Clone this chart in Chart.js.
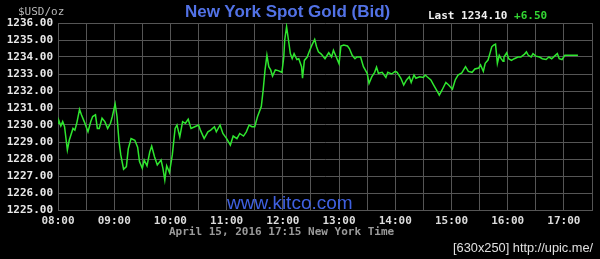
<!doctype html>
<html lang="en">
  <head>
    <meta charset="utf-8">
    <title>New York Spot Gold (Bid)</title>
    <style>
      html, body { margin: 0; padding: 0; background: #000; }
      #wrap { position: relative; width: 600px; height: 259px; overflow: hidden; }
      .txt { position: absolute; white-space: nowrap; font-family: "DejaVu Sans Mono", monospace;
             font-weight: bold; font-size: 11px; line-height: 13px; }
    </style>
  </head>
  <body>
    <div id="wrap">
      <canvas id="gold-chart" width="600" height="259"></canvas>

      <!-- header / footer labels -->
      <div class="txt" style="left:18px; top:5px; color:#b8b8b8; font-weight:normal;">$USD/oz</div>
      <div class="txt" style="left:185px; top:2px; font-family:'Liberation Sans', Arial, sans-serif; font-size:17px; line-height:20px; color:#5272e6;">New York Spot Gold (Bid)</div>
      <div class="txt" style="left:428px; top:9px; color:#f0f0f0;">Last 1234.10 <span style="color:#33d633;">+6.50</span></div>
      <div class="txt" style="left:227px; top:192px; font-family:'Liberation Sans', Arial, sans-serif; font-weight:normal; font-size:19px; line-height:22px; color:#3f60e0;">www.kitco.com</div>
      <div class="txt" style="left:169px; top:225px; color:#9a9a9a;">April 15, 2016 17:15 New York Time</div>
      <div class="txt" style="left:453px; top:240px; font-family:'Liberation Sans', Arial, sans-serif; font-weight:normal; font-size:12.8px; line-height:15px; color:#e0e0e0;">[630x250] http://upic.me/</div>
    </div>

    <script src="https://cdn.jsdelivr.net/npm/chart.js"></script>
    <script>
        // bid quotes (New York time)
        var times = [
            "08:00","08:01","08:03","08:05","08:07","08:10","08:12","08:16","08:18","08:20",
            "08:23","08:25","08:28","08:32","08:35","08:37","08:40","08:42","08:44","08:47",
            "08:50","08:53","08:56","08:58","09:01","09:03","09:05","09:07","09:10","09:13",
            "09:15","09:18","09:22","09:25","09:27","09:30","09:32","09:35","09:38","09:40",
            "09:43","09:46","09:50","09:52","09:54","09:56","09:59","10:02","10:05","10:07",
            "10:10","10:13","10:16","10:19","10:22","10:26","10:30","10:32","10:36","10:40",
            "10:43","10:47","10:49","10:53","10:56","11:00","11:04","11:07","11:11","11:14",
            "11:18","11:21","11:24","11:27","11:30","11:33","11:37","11:39","11:41","11:43",
            "11:45","11:47","11:49","11:52","11:55","11:59","12:01","12:02","12:04","12:06",
            "12:08","12:10","12:12","12:15","12:17","12:20","12:21","12:23","12:26","12:28",
            "12:31","12:34","12:36","12:38","12:41","12:45","12:49","12:52","12:54","12:57",
            "13:00","13:02","13:05","13:09","13:11","13:14","13:17","13:19","13:23","13:26",
            "13:30","13:32","13:35","13:38","13:40","13:42","13:46","13:50","13:52","13:56",
            "14:00","14:02","14:06","14:09","14:12","14:15","14:17","14:20","14:22","14:26",
            "14:30","14:32","14:34","14:38","14:41","14:45","14:47","14:50","14:54","14:57",
            "15:01","15:04","15:07","15:11","15:15","15:18","15:22","15:25","15:29","15:31",
            "15:34","15:36","15:39","15:41","15:43","15:45","15:47","15:48","15:49","15:51",
            "15:53","15:55","15:56","15:59","16:01","16:04","16:07","16:11","16:14","16:18",
            "16:20","16:22","16:25","16:27","16:30","16:34","16:37","16:41","16:44","16:47",
            "16:50","16:53","16:55","16:58","17:01","17:03","17:15"
        ]
        var bids = [
            1230.10,1230.25,1229.94,1230.20,1229.90,1228.53,1229.10,1229.80,1229.70,1230.10,
            1230.92,1230.60,1230.20,1229.60,1230.20,1230.50,1230.60,1229.80,1229.80,1230.40,
            1230.20,1229.80,1230.10,1230.50,1231.24,1230.50,1229.10,1228.24,1227.40,1227.55,
            1228.60,1229.20,1229.10,1228.70,1227.85,1227.45,1227.94,1227.60,1228.43,1228.76,
            1228.13,1227.65,1227.94,1227.45,1226.76,1227.60,1227.20,1228.24,1229.80,1230.00,
            1229.30,1230.20,1230.10,1230.34,1229.80,1229.90,1230.00,1229.70,1229.20,1229.60,
            1229.70,1229.90,1229.60,1230.00,1229.50,1229.20,1228.82,1229.35,1229.20,1229.50,
            1229.35,1229.60,1230.00,1229.90,1229.90,1230.50,1231.08,1232.06,1233.24,1234.10,
            1233.43,1233.24,1232.88,1233.24,1233.20,1233.10,1234.00,1235.00,1235.78,1235.00,
            1234.20,1233.90,1234.20,1233.85,1233.90,1233.43,1232.75,1233.80,1234.00,1234.30,
            1234.70,1235.04,1234.60,1234.30,1234.17,1233.90,1234.25,1234.00,1234.40,1234.00,
            1233.60,1234.65,1234.70,1234.65,1234.50,1234.10,1233.90,1234.00,1234.00,1233.43,
            1233.04,1232.45,1232.84,1233.10,1233.40,1233.04,1233.10,1232.80,1233.10,1233.00,
            1233.15,1233.10,1232.75,1232.35,1232.65,1232.84,1232.50,1232.94,1232.75,1232.84,
            1232.80,1232.94,1232.84,1232.65,1232.35,1231.96,1231.76,1232.06,1232.50,1232.35,
            1232.10,1232.65,1232.94,1233.06,1233.43,1233.15,1233.10,1233.30,1233.35,1233.53,
            1233.15,1233.63,1233.82,1234.20,1234.60,1234.70,1234.76,1234.20,1233.63,1234.10,
            1233.90,1233.75,1234.00,1234.25,1233.90,1233.80,1233.90,1234.00,1234.00,1234.17,
            1234.30,1234.10,1234.00,1234.20,1234.05,1234.00,1233.90,1233.85,1234.00,1233.90,
            1234.05,1234.20,1233.90,1233.85,1234.10,1234.10,1234.10
        ]

        // axis range
        var startTime = "08:00"
        var endTime = "17:30"
        var yMin = 1225
        var yMax = 1236

        // helper functions
        function toMinutes(hhmm) {
            var p = hhmm.split(":")
            return parseInt(p[0]) * 60 + parseInt(p[1])
        }

        function fmtTime(m) {
            var h = Math.floor(m / 60)
            var mm = m % 60
            return (h < 10 ? "0" : "") + h + ":" + (mm < 10 ? "0" : "") + mm
        }

        var t0 = toMinutes(startTime)
        var points = times.map(function (t, i) {
            return { x: toMinutes(t) - t0, y: bids[i] }
        })

        var gridColor = "#555555"
        var tickFont = { family: "'DejaVu Sans Mono', monospace", size: 11, weight: "bold" }

        new Chart(document.getElementById("gold-chart"), {
            type: "line",
            data: {
                datasets: [{
                    data: points,
                    borderColor: "#2fe62f",
                    borderWidth: 1.5,
                    pointRadius: 0,
                    tension: 0,
                    fill: false
                }]
            },
            options: {
                responsive: false,
                animation: false,
                layout: { padding: { top: 23, right: 8, left: 0, bottom: 0 } },
                plugins: {
                    legend: { display: false },
                    tooltip: { enabled: false }
                },
                scales: {
                    x: {
                        type: "linear",
                        min: 0,
                        max: toMinutes(endTime) - t0,
                        border: { color: gridColor },
                        grid: { color: gridColor, drawTicks: false },
                        afterFit: function (axis) { axis.height = 49 },
                        ticks: {
                            stepSize: 30,
                            autoSkip: false,
                            maxRotation: 0,
                            padding: 5,
                            color: "#dcdcdc",
                            font: tickFont,
                            callback: function (v) {
                                return v % 60 === 0 ? fmtTime(v + t0) : ""
                            }
                        }
                    },
                    y: {
                        min: yMin,
                        max: yMax,
                        border: { color: gridColor },
                        grid: { color: gridColor, drawTicks: false },
                        afterFit: function (axis) { axis.width = 58 },
                        ticks: {
                            stepSize: 1,
                            padding: 5,
                            color: "#e8e8e8",
                            font: tickFont,
                            callback: function (v) { return v.toFixed(2) }
                        }
                    }
                }
            }
        })
    </script>
  </body>
</html>
